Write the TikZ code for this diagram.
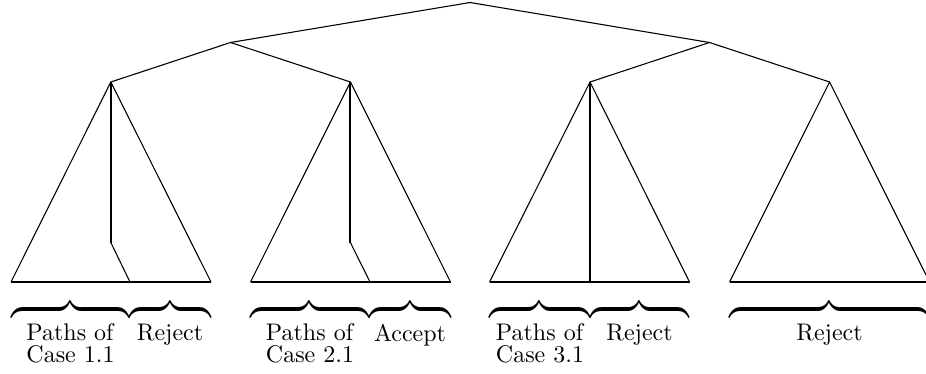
\documentclass[tikz,border=0pt]{standalone}
\newdimen\pxu \pxu=0.4167pt
\newcommand{\mybrace}[1]{\scalebox{1}[1.35]{\hbox to #1\pxu{\downbracefill}}}
\begin{document}
\begin{tikzpicture}[x=0.4167pt,y=-0.4167pt,
  thinline/.style={line width=0.45pt, line join=round},
  thickline/.style={line width=0.85pt},
  brc/.style={inner sep=0pt, anchor=north},
  lbl/.style={inner sep=0pt, anchor=north, align=left, font=\fontsize{10}{8.8}\selectfont}]
\useasboundingbox[fill=white] (0,0) rectangle (926,373);
% tree nodes
\coordinate (r) at (470,2.5);
\coordinate (m1) at (230.5,42.5);
\coordinate (m2) at (709.5,42.5);
\coordinate (a1) at (110.8,82);
\coordinate (a2) at (350.4,82);
\coordinate (a3) at (590,82);
\coordinate (a4) at (829.6,82);
% triangle base corners
\coordinate (l1) at (11,282);  \coordinate (e1) at (211,282);
\coordinate (l2) at (250.5,282); \coordinate (e2) at (450.5,282);
\coordinate (l3) at (489.5,282); \coordinate (e3) at (689.5,282);
\coordinate (l4) at (729.5,282); \coordinate (e4) at (929.5,282);
% inner paths
\coordinate (k1) at (110.8,242.5); \coordinate (b1) at (130,282);
\coordinate (k2) at (350.4,242.5); \coordinate (b2) at (370,282);
\coordinate (b3) at (590,282);
% tree edges
\draw[thinline] (m1) -- (r) -- (m2);
\draw[thinline] (a1) -- (m1) -- (a2);
\draw[thinline] (a3) -- (m2) -- (a4);
% triangles
\foreach \i in {1,2,3,4} {
  \draw[thinline] (l\i) -- (a\i) -- (e\i);
  \draw[thickline] (l\i) -- (e\i);
}
% inner paths
\draw[thickline] (a1) -- (k1);
\draw[thinline] (k1) -- (b1);
\draw[thickline] (a2) -- (k2);
\draw[thinline] (k2) -- (b2);
\draw[thickline] (a3) -- (b3);
% braces
\node[brc] (br1a) at (70,307) {\mybrace{118}};
\node[brc] (br1b) at (170,307) {\mybrace{82}};
\node[brc] (br2a) at (309.5,307) {\mybrace{119}};
\node[brc] (br2b) at (410,307) {\mybrace{82}};
\node[brc] (br3a) at (539.5,307) {\mybrace{101}};
\node[brc] (br3b) at (639.5,307) {\mybrace{99}};
\node[brc] (br4) at (829.5,307) {\mybrace{200}};
% labels
\node[lbl] (t1a) at (70.5,323.5) {Paths of\\Case 1.1};
\node[lbl] (t1b) at (170,323.5) {Reject};
\node[lbl] (t2a) at (310,323.5) {Paths of\\Case 2.1};
\node[lbl] (t2b) at (410,323.5) {Accept};
\node[lbl] (t3a) at (540,323.5) {Paths of\\Case 3.1};
\node[lbl] (t3b) at (639.5,323.5) {Reject};
\node[lbl] (t4) at (829.5,323.5) {Reject};
\end{tikzpicture}
\end{document}
